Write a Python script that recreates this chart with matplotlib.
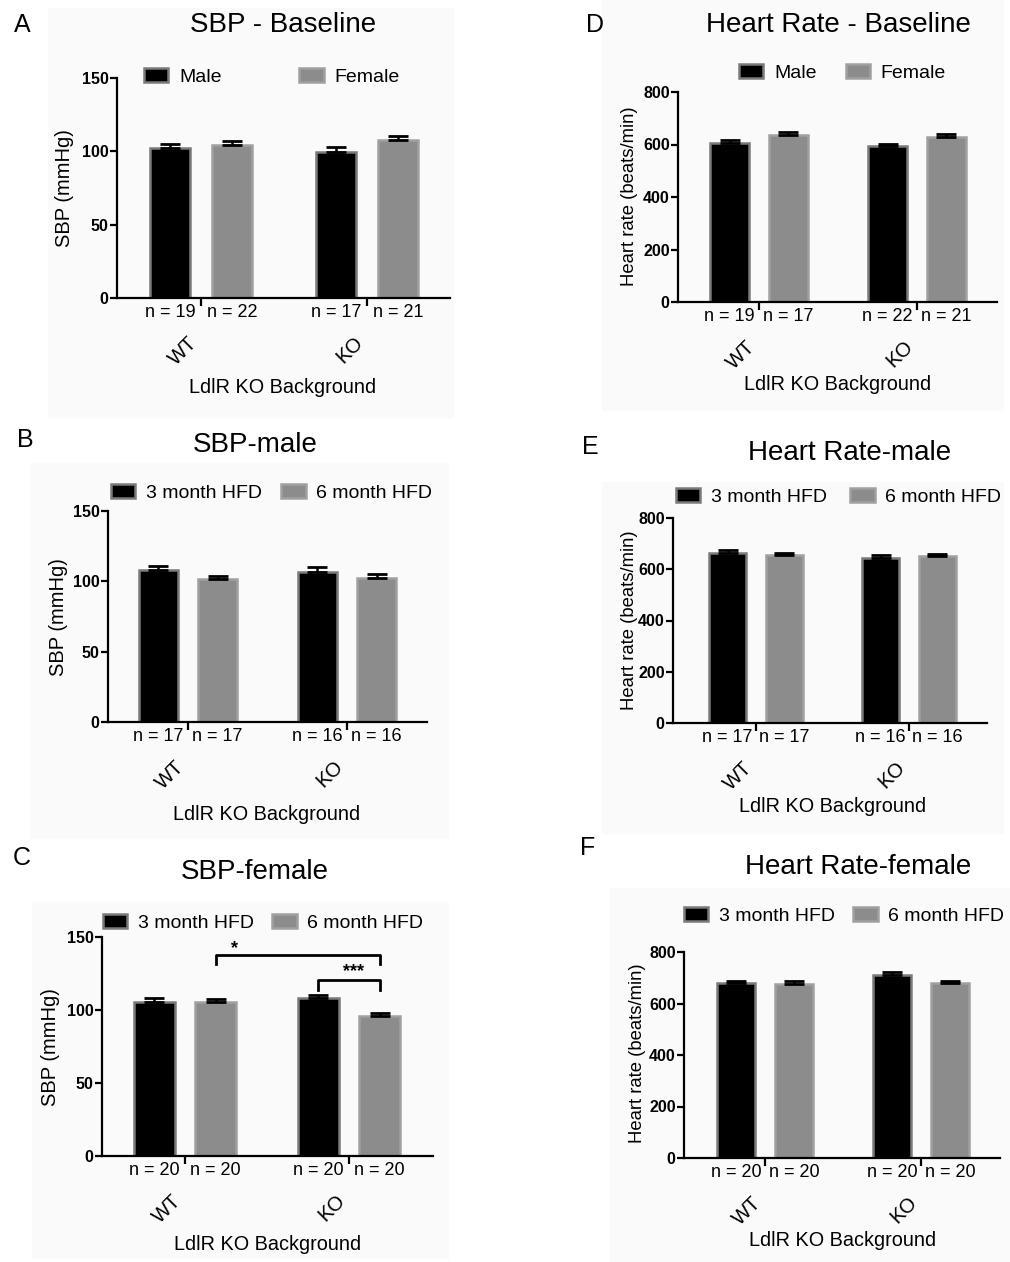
"""SBP and heart rate bar panels (A-F) for LdlR KO background mice."""

import matplotlib
matplotlib.use('Agg')
import matplotlib.pyplot as plt
from matplotlib.patches import Rectangle

plt.rcParams['font.family'] = ['Liberation Sans', 'DejaVu Sans']

# ---- data ----
groups = ['WT', 'KO']

sbp_base_male = [102.3, 99.8]
sbp_base_male_sem = [2.6, 3.0]
sbp_base_female = [104.4, 107.8]
sbp_base_female_sem = [2.7, 2.7]
sbp_base_n = ['n = 19', 'n = 22', 'n = 17', 'n = 21']

sbp_male_3mo = [108.0, 106.6]
sbp_male_3mo_sem = [2.7, 3.6]
sbp_male_6mo = [101.9, 102.6]
sbp_male_6mo_sem = [2.1, 2.4]
sbp_male_n = ['n = 17', 'n = 17', 'n = 16', 'n = 16']

sbp_female_3mo = [105.5, 108.3]
sbp_female_3mo_sem = [2.5, 2.0]
sbp_female_6mo = [105.3, 96.0]
sbp_female_6mo_sem = [2.1, 2.0]
sbp_female_n = ['n = 20', 'n = 20', 'n = 20', 'n = 20']

hr_base_male = [604, 594]
hr_base_male_sem = [15, 9]
hr_base_female = [638, 629]
hr_base_female_sem = [10, 11]
hr_base_n = ['n = 19', 'n = 17', 'n = 22', 'n = 21']

hr_male_3mo = [663, 644]
hr_male_3mo_sem = [12, 11]
hr_male_6mo = [654, 650]
hr_male_6mo_sem = [9, 9]
hr_male_n = ['n = 17', 'n = 17', 'n = 16', 'n = 16']

hr_female_3mo = [680, 711]
hr_female_3mo_sem = [8, 10]
hr_female_6mo = [677, 680]
hr_female_6mo_sem = [11, 8]
hr_female_n = ['n = 20', 'n = 20', 'n = 20', 'n = 20']

# ---- layout (pixels) ----
W, H = 1010, 1262
fig = plt.figure(figsize=(W / 100, H / 100), dpi=100)


def fx(px):
    return px / W


def fy(py):
    return 1 - py / H


# faint background boxes of each panel
for x0, y0, x1, y1 in [(48, 8, 453, 417), (30, 463, 448, 838), (32, 902, 448, 1258),
                       (602, 0, 1003, 410), (602, 482, 1003, 833), (610, 888, 1010, 1262)]:
    fig.patches.append(Rectangle((fx(x0), fy(y1)), (x1 - x0) / W, (y1 - y0) / H,
                                 transform=fig.transFigure, color='#fafafa', zorder=-5))

BLACK_EDGE = '#7a7a7a'
GRAY_FACE = '#8c8c8c'
GRAY_EDGE = '#a0a0a0'
OFFSET = 0.186
WIDTH = 0.245


def panel(box, gpx, ymax, ystep, s1, e1, s2, e2, nlabels, names, legend_at, colsp,
          title, title_at, letter, letter_at, ylabel, ylabel_at, ylabel_size, xlabel_at):
    x0, y0, x1, y1 = box
    ax = fig.add_axes([fx(x0), fy(y1), (x1 - x0) / W, (y1 - y0) / H])
    ax.patch.set_alpha(0)
    ax.set_zorder(2)
    sp = gpx[1] - gpx[0]
    ax.set_xlim((x0 - gpx[0]) / sp, (x1 - gpx[0]) / sp)
    ax.set_ylim(0, ymax)
    xs = range(len(groups))
    left = [x - OFFSET for x in xs]
    right = [x + OFFSET for x in xs]
    b1 = ax.bar(left, s1, WIDTH, color='black', edgecolor=BLACK_EDGE, linewidth=1.8,
                label=names[0], zorder=2)
    b2 = ax.bar(right, s2, WIDTH, color=GRAY_FACE, edgecolor=GRAY_EDGE, linewidth=1.8,
                label=names[1], zorder=2)
    ax.errorbar(left, s1, yerr=[[0] * len(s1), e1], fmt='none', ecolor='black',
                elinewidth=1.8, capsize=7.5, capthick=2, zorder=3)
    ax.errorbar(right, s2, yerr=[[0] * len(s2), e2], fmt='none', ecolor='black',
                elinewidth=1.8, capsize=7.5, capthick=2, zorder=3)

    for side in ['top', 'right']:
        ax.spines[side].set_visible(False)
    for side in ['left', 'bottom']:
        ax.spines[side].set_linewidth(1.6)
    ax.set_yticks(range(0, ymax + 1, ystep))
    ax.tick_params(axis='y', length=5, width=1.6, labelsize=11.5, pad=1)
    for lab in ax.get_yticklabels():
        lab.set_fontweight('bold')

    # group ticks with rotated labels, n labels under each bar
    ax.set_xticks(list(xs))
    ax.set_xticklabels(groups, rotation=45, ha='right', fontsize=14.5)
    ax.tick_params(axis='x', which='major', length=6, width=1.6, pad=19)
    bar_pos = sorted(left + right)
    ax.set_xticks(bar_pos, minor=True)
    ax.set_xticklabels(nlabels, minor=True, fontsize=13)
    ax.tick_params(axis='x', which='minor', length=0, pad=4)

    ax.set_ylabel(ylabel, fontsize=ylabel_size)
    ax.yaxis.label.set_va('center')
    ax.yaxis.set_label_coords(fx(ylabel_at[0]), fy(ylabel_at[1]), transform=fig.transFigure)
    ax.set_xlabel('LdlR KO Background', fontsize=14.3)
    ax.xaxis.label.set_va('center')
    ax.xaxis.set_label_coords(fx(xlabel_at[0]), fy(xlabel_at[1]), transform=fig.transFigure)

    fig.legend(handles=[b1, b2], loc='center left', ncol=2, frameon=False,
               bbox_to_anchor=(fx(legend_at[0]), fy(legend_at[1])),
               bbox_transform=fig.transFigure, borderpad=0, borderaxespad=0,
               fontsize=14, handlelength=1.25, handleheight=0.75,
               handletextpad=0.55, columnspacing=colsp)
    fig.text(fx(title_at[0]), fy(title_at[1]), title, fontsize=20, ha='center', va='center')
    fig.text(fx(letter_at[0]), fy(letter_at[1]), letter, fontsize=18, ha='center', va='center')
    return ax


panel((117, 78, 450, 298), (201, 367), 150, 50,
      sbp_base_male, sbp_base_male_sem, sbp_base_female, sbp_base_female_sem,
      sbp_base_n, ['Male', 'Female'], (144, 77), 4.0,
      'SBP - Baseline', (283, 25), 'A', (22, 25),
      'SBP (mmHg)', (65, 188), 14.5, (283, 388))

panel((108, 511, 427, 722), (188, 347), 150, 50,
      sbp_male_3mo, sbp_male_3mo_sem, sbp_male_6mo, sbp_male_6mo_sem,
      sbp_male_n, ['3 month HFD', '6 month HFD'], (111, 493), 1.0,
      'SBP-male', (255, 445), 'B', (25, 440),
      'SBP (mmHg)', (58, 617), 14.5, (267, 815))

axC = panel((102, 937, 433, 1156), (185, 349), 150, 50,
            sbp_female_3mo, sbp_female_3mo_sem, sbp_female_6mo, sbp_female_6mo_sem,
            sbp_female_n, ['3 month HFD', '6 month HFD'], (103, 923), 0.95,
            'SBP-female', (255, 872), 'C', (22, 858),
            'SBP (mmHg)', (50, 1047), 14.5, (268, 1245))

# significance brackets in panel C
axC.plot([OFFSET, OFFSET, 1 + OFFSET, 1 + OFFSET], [131.3, 137.5, 137.5, 131.3],
         color='black', lw=2, clip_on=False, zorder=4)
axC.text(0.30, 142, '*', ha='center', va='center', fontsize=13, fontweight='bold')
axC.plot([1 - OFFSET, 1 - OFFSET, 1 + OFFSET, 1 + OFFSET], [113.5, 120.4, 120.4, 113.5],
         color='black', lw=2, clip_on=False, zorder=4)
axC.text(1.03, 126, '***', ha='center', va='center', fontsize=13, fontweight='bold')

panel((678, 92, 997, 302), (759, 917), 800, 200,
      hr_base_male, hr_base_male_sem, hr_base_female, hr_base_female_sem,
      hr_base_n, ['Male', 'Female'], (739, 73), 1.5,
      'Heart Rate - Baseline', (838, 25), 'D', (595, 25),
      'Heart rate (beats/min)', (630, 196), 13.3, (838, 385))

panel((673, 518, 987, 723), (756, 909), 800, 200,
      hr_male_3mo, hr_male_3mo_sem, hr_male_6mo, hr_male_6mo_sem,
      hr_male_n, ['3 month HFD', '6 month HFD'], (676, 497), 1.2,
      'Heart Rate-male', (850, 453), 'E', (590, 447),
      'Heart rate (beats/min)', (630, 620), 13.3, (833, 807))

panel((684, 952, 1000, 1158), (765, 921), 800, 200,
      hr_female_3mo, hr_female_3mo_sem, hr_female_6mo, hr_female_6mo_sem,
      hr_female_n, ['3 month HFD', '6 month HFD'], (684, 916), 0.95,
      'Heart Rate-female', (858, 867), 'F', (588, 848),
      'Heart rate (beats/min)', (638, 1053), 13.3, (843, 1240))

fig.savefig('out.png', dpi=100, facecolor='white')
